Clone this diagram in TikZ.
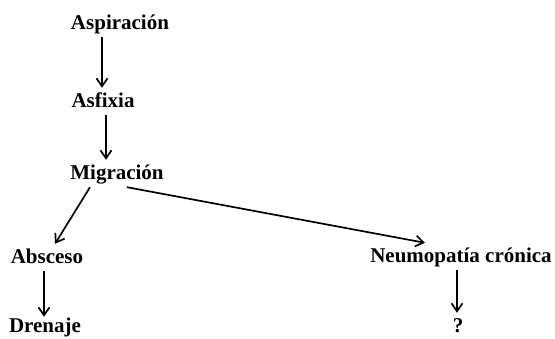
\documentclass[tikz,border=0pt]{standalone}
\usepackage{fontspec}
\setmainfont{Liberation Serif}
\usetikzlibrary{arrows.meta}

\begin{document}
\begin{tikzpicture}[
    x=1pt, y=-1pt,
    term/.style={anchor=base, inner sep=3pt, text height=16pt, text depth=5pt, font=\fontsize{21}{25}\selectfont\bfseries},
    arr/.style={-{Straight Barb[length=8pt, width=11pt]}, line width=1.7pt}
]
    \useasboundingbox (0,0) rectangle (555,338);

    \node[term] (asp) at (120,29) {Aspiración};
    \node[term] (asf) at (103,107) {Asfixia};
    \node[term] (mig) at (117,179) {Migración};
    \node[term] (abs) at (47,263) {Absceso};
    \node[term] (dre) at (45,332) {Drenaje};
    \node[term] (neu) at (461,262) {Neumopatía crónica};
    \node[term] (que) at (458,332) {?};

    \draw[arr] ([xshift=-18pt]asp.south) -- ([xshift=-1pt]asf.north);
    \draw[arr] ([xshift=3pt]asf.south) -- ([xshift=-11pt]mig.north);
    \draw[arr] ([xshift=-27pt]mig.south) -- ([xshift=8pt]abs.north);
    \draw[arr] ([xshift=10pt]mig.south) -- ([xshift=-36pt]neu.north);
    \draw[arr] ([xshift=-3pt]abs.south) -- ([xshift=-1pt,yshift=-4pt]dre.north);
    \draw[arr] ([xshift=-4pt]neu.south) -- ([xshift=-1pt]que.north);
\end{tikzpicture}
\end{document}
